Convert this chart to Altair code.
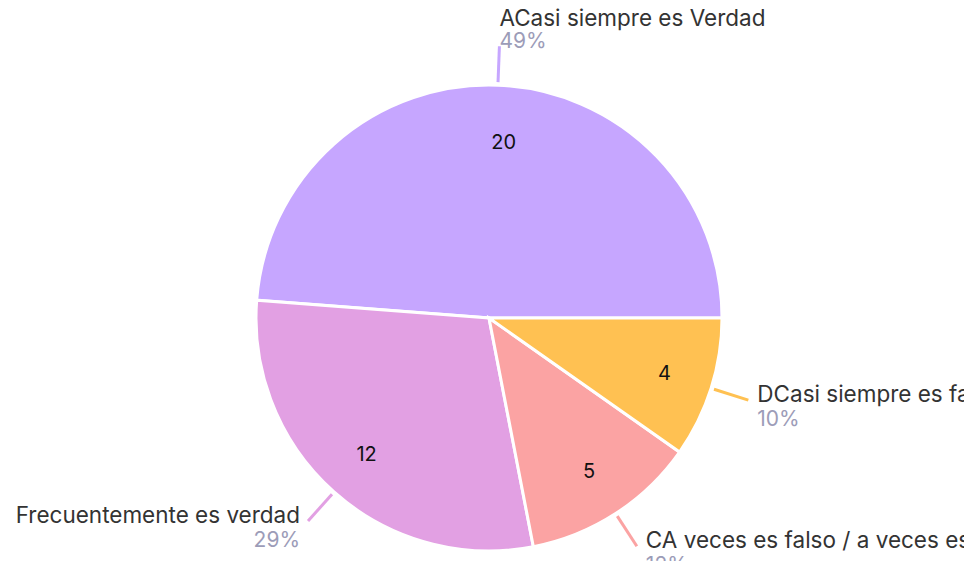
import math
import altair as alt
import pandas as pd

labels = ["ACasi siempre es Verdad", "Frecuentemente es verdad",
          "CA veces es falso / a veces es verdad", "DCasi siempre es falso"]
values = [20, 12, 5, 4]
colors = ["#c6a6ff", "#e2a0e3", "#fba3a3", "#ffc152"]
clockwise_order = [3, 2, 1, 0]

df = pd.DataFrame({"label": labels, "value": values, "ord": clockwise_order})

CX, CY, R = 481, 310, 233
FONT = "Inter"

base = (
    alt.Chart(df)
    .transform_joinaggregate(total="sum(value)")
    .transform_window(cum="sum(value)", sort=[alt.SortField("ord")], frame=[None, 0])
    .transform_calculate(
        mid="(datum.cum - datum.value/2)/datum.total*2*PI + PI/2",
        pct="round(datum.value/datum.total*100) + '%'",
    )
    .transform_calculate(
        top="cos(datum.mid) > 0.9",
        right="sin(datum.mid) > 0",
    )
    .transform_calculate(
        x0=f"{CX} + {R+3}*sin(datum.mid)",
        y0=f"{CY} - {R+3}*cos(datum.mid)",
        x1=f"{CX} + 272*sin(datum.mid)",
        y1=f"{CY} - 272*cos(datum.mid)",
        ir="datum.top ? 175 : 184",
    )
    .transform_calculate(
        ix=f"{CX} + datum.ir*sin(datum.mid) + (datum.top ? 8 : 0)",
        iy=f"{CY} - datum.ir*cos(datum.mid)",
        tx="datum.right ? datum.x1 + (datum.top ? 0 : 9) : datum.x1 - 8",
        tyn="datum.top ? datum.y1 - 27 : datum.y1 - 5",
        typ="datum.top ? datum.y1 - 4 : datum.y1 + 20",
    )
)

color = alt.Color("label:N", scale=alt.Scale(domain=labels, range=colors), legend=None)

arcs = base.mark_arc(outerRadius=R, stroke="white", strokeWidth=3).encode(
    theta=alt.Theta("value:Q", stack=True,
                    scale=alt.Scale(range=[math.pi / 2, math.pi / 2 + 2 * math.pi])),
    order=alt.Order("ord:Q"),
    color=color,
    x=alt.value(CX),
    y=alt.value(CY),
)

leaders = base.mark_rule(strokeWidth=3).encode(
    x=alt.X("x0:Q", scale=None),
    y=alt.Y("y0:Q", scale=None),
    x2="x1:Q",
    y2="y1:Q",
    color=color,
)

inside = base.mark_text(font=FONT, fontSize=20, color="#111111", baseline="middle").encode(
    x=alt.X("ix:Q", scale=None),
    y=alt.Y("iy:Q", scale=None),
    text="value:Q",
)

def side_labels(cond, align):
    b = base.transform_filter(cond)
    name = b.mark_text(font=FONT, fontSize=22.5, color="#333333", align=align).encode(
        x=alt.X("tx:Q", scale=None), y=alt.Y("tyn:Q", scale=None), text="label:N")
    pct = b.mark_text(font=FONT, fontSize=21, color="#9c9cb8", align=align).encode(
        x=alt.X("tx:Q", scale=None), y=alt.Y("typ:Q", scale=None), text="pct:N")
    return name + pct

chart = (
    alt.layer(arcs, leaders, inside, side_labels("datum.right", "left"),
              side_labels("!datum.right", "right"))
    .properties(width=956, height=553, autosize=alt.AutoSizeParams(type="none"), padding=0)
    .configure_view(stroke=None)
    .resolve_scale(color="shared")
)

chart.save("out.html", embed_options={"renderer": "svg", "actions": False})
